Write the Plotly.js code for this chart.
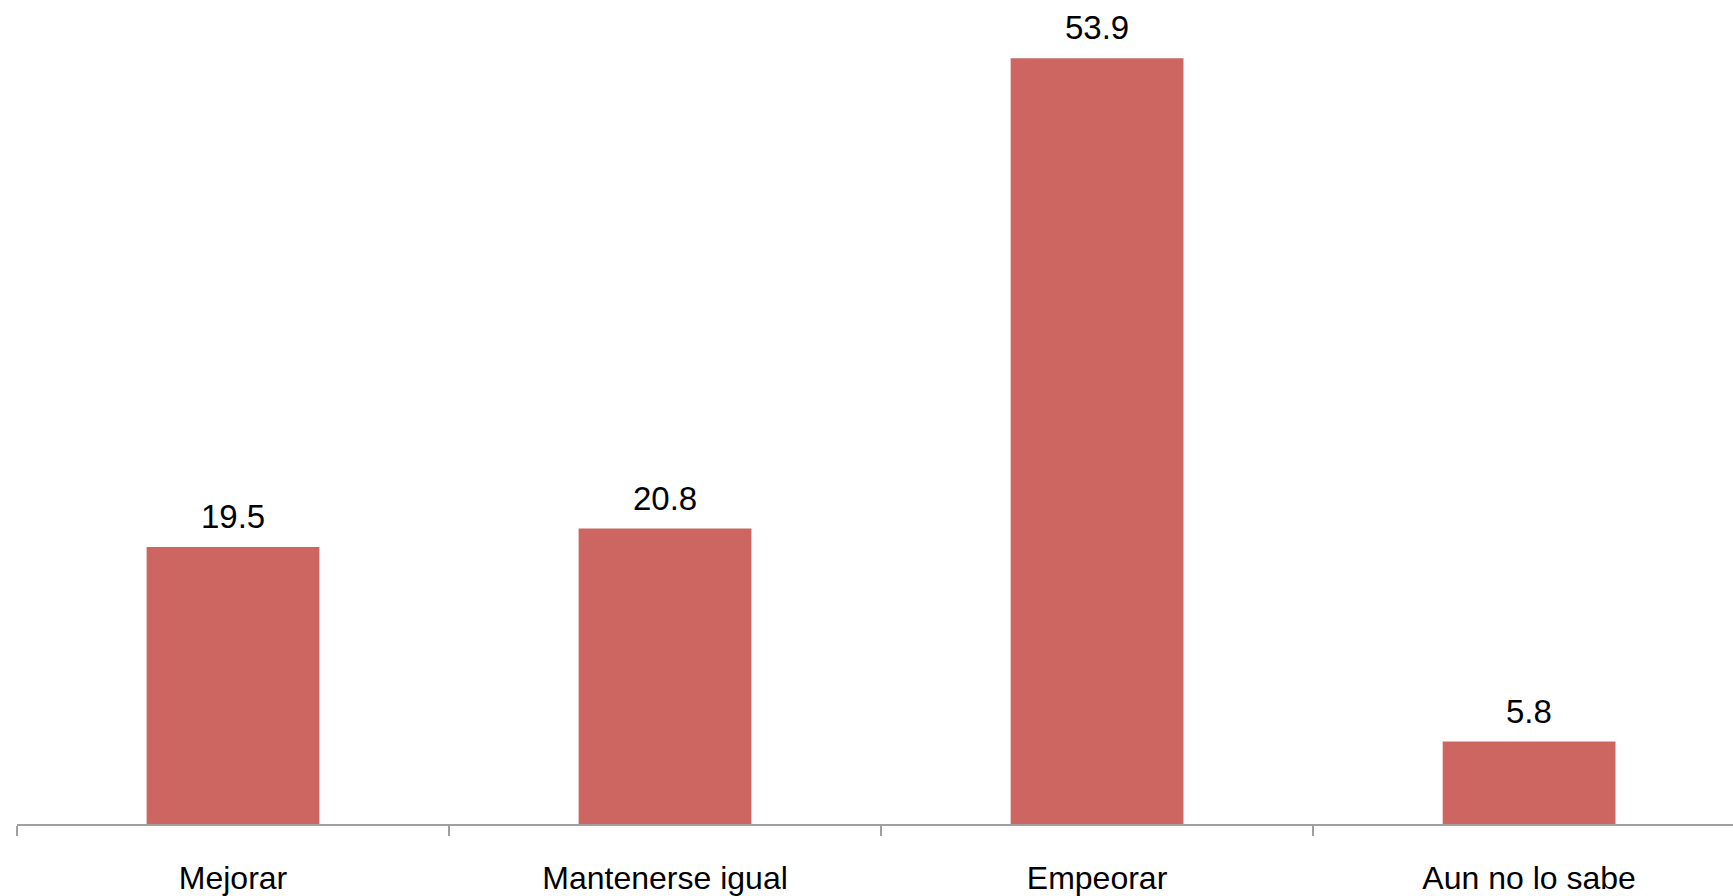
<!DOCTYPE html>
<html>
<head>
<meta charset="utf-8">
<script src="https://cdn.plot.ly/plotly-3.0.1.min.js"></script>
<style>html,body{margin:0;padding:0;background:#fff;}#chart{width:1733px;height:896px;}</style>
</head>
<body>
<div id="chart"></div>
<script>
const categories = ["Mejorar", "Mantenerse igual", "Empeorar", "Aun no lo sabe"];
const values = [19.5, 20.8, 53.9, 5.8];
const labels = ["19.5", "20.8", "53.9", "5.8"];

const FONT = "'Liberation Sans', Arial, Helvetica, sans-serif";

const trace = {
  type: "bar",
  x: categories,
  y: values,
  width: 0.4,
  marker: {color: "#cd6660"},
  hoverinfo: "skip"
};

const annotations = categories.map((c, i) => ({
  x: c, y: values[i], xref: "x", yref: "y",
  text: labels[i], showarrow: false,
  yanchor: "bottom", yshift: 10,
  font: {family: FONT, size: 33, color: "#000"}
}));

const layout = {
  width: 1733, height: 896,
  margin: {l: 17, r: 0, t: 0, b: 72, pad: 0},
  paper_bgcolor: "#fff", plot_bgcolor: "#fff",
  showlegend: false,
  xaxis: {
    type: "category",
    range: [-0.5, 3.472],
    tickson: "boundaries",
    ticks: "outside", ticklen: 10, tickwidth: 2, tickcolor: "#a0a0a0",
    showline: true, linecolor: "#a0a0a0", linewidth: 2,
    showgrid: false, zeroline: false,
    tickfont: {family: FONT, size: 32, color: "#000"},
    ticklabelstandoff: 25
  },
  yaxis: {
    range: [0, 58],
    visible: false, showgrid: false, zeroline: false
  },
  annotations: annotations
};

Plotly.newPlot("chart", [trace], layout, {displayModeBar: false, staticPlot: true});
</script>
</body>
</html>
